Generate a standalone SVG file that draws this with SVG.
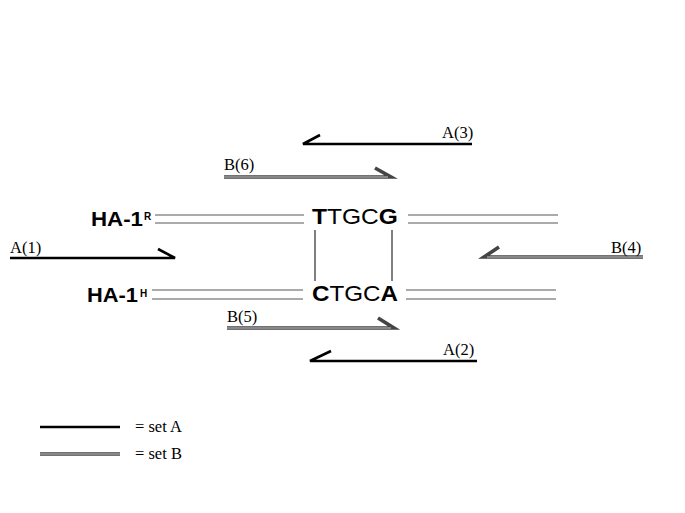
<svg xmlns="http://www.w3.org/2000/svg" width="685" height="513" viewBox="0 0 685 513">
<style>
.strand{stroke:#aaa;stroke-width:2;fill:none}
.a{stroke:#000;stroke-width:2.6;fill:none;stroke-linecap:butt}
.bo{stroke:#444;stroke-width:3.6;fill:none}
.bi{stroke:#ccc;stroke-width:1;fill:none}
.lbl{font-family:"Liberation Serif",serif;font-size:16.5px;fill:#000}
.ha{font-family:"Liberation Sans",Arial,sans-serif;font-weight:bold;font-size:20px;fill:#000}
.sup{font-family:"Liberation Sans",Arial,sans-serif;font-weight:bold;font-size:10px;fill:#000}
.seq{font-family:"Liberation Sans",Arial,sans-serif;font-size:22px;fill:#000}
.tick{stroke:#000;stroke-width:1;fill:none}
</style>
<rect width="685" height="513" fill="#fff"/>
<g id="ha1r">
<text class="ha" x="91" y="226" textLength="52" lengthAdjust="spacingAndGlyphs">HA-1</text>
<text class="sup" x="144" y="220">R</text>
<path class="strand" d="M155 215H304M155 223H304M408 215H558M408 223H558"/>
<text class="seq" x="312" y="224" textLength="86" lengthAdjust="spacingAndGlyphs"><tspan font-weight="bold">T</tspan>TGC<tspan font-weight="bold">G</tspan></text>
</g>
<g id="ha1h">
<text class="ha" x="87" y="302" textLength="51" lengthAdjust="spacingAndGlyphs">HA-1</text>
<text class="sup" x="140" y="297">H</text>
<path class="strand" d="M152 290H303M152 299H303M406 290H556M406 299H556"/>
<text class="seq" x="312" y="301" textLength="86" lengthAdjust="spacingAndGlyphs"><tspan font-weight="bold">C</tspan>TGC<tspan font-weight="bold">A</tspan></text>
</g>
<g id="mismatch">
<path class="tick" d="M315 230V281M392 230V281"/>
</g>
<g id="connectors">
<g id="A1"><path class="a" d="M10 258H175L158 249"/></g>
<g id="A3"><path class="a" d="M472 144H303L320 135"/></g>
<g id="A2"><path class="a" d="M477 361H310L331 351"/></g>
<g id="B6"><path class="bo" d="M224 177H391L375 168"/><path class="bi" d="M224 177H388"/></g>
<g id="B5"><path class="bo" d="M227 328H394L378 318"/><path class="bi" d="M227 328H391"/></g>
<g id="B4"><path class="bo" d="M643 257H484L499 247"/><path class="bi" d="M643 257H487"/></g>
</g>
<g id="labels">
<text class="lbl" x="10" y="253">A(1)</text>
<text class="lbl" x="442" y="138">A(3)</text>
<text class="lbl" x="224" y="170">B(6)</text>
<text class="lbl" x="611" y="253">B(4)</text>
<text class="lbl" x="227" y="322">B(5)</text>
<text class="lbl" x="443" y="355">A(2)</text>
</g>
<g id="legend">
<path class="a" d="M40 427H120"/>
<text class="lbl" x="135" y="432">= set A</text>
<path class="bo" d="M40 454H120"/><path class="bi" d="M40 454H120"/>
<text class="lbl" x="135" y="459">= set B</text>
</g>
</svg>
